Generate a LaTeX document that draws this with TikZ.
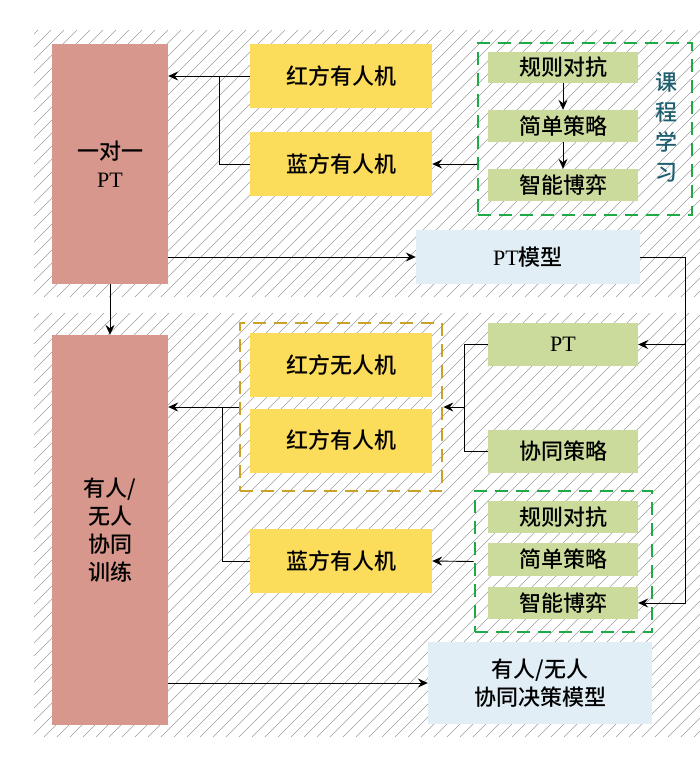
\documentclass[tikz,border=0pt]{standalone}
\usepackage{fontspec}
\setmainfont{Liberation Serif}
\newfontfamily\cjk{Noto Sans CJK SC}[UprightFont={* Medium}]
\usetikzlibrary{arrows.meta}

\definecolor{ptpink}{HTML}{D8978C}
\definecolor{uavyellow}{HTML}{FCDC5B}
\definecolor{stratgreen}{HTML}{CBDB9C}
\definecolor{modelblue}{HTML}{E1EEF6}
\definecolor{curgreen}{HTML}{1FAA48}
\definecolor{teamgold}{HTML}{C9A227}
\definecolor{curtext}{HTML}{1E5F70}

\begin{document}
\begin{tikzpicture}[x=1pt,y=-1pt,
    hatch/.style={black!38, line width=0.6pt},
    box/.style={inner sep=0pt, align=center, font=\cjk\fontsize{22}{28}\selectfont},
    ptbox/.style={box, fill=ptpink, minimum width=116},
    uav/.style={box, fill=uavyellow, minimum width=182, minimum height=64},
    strat/.style={box, fill=stratgreen, minimum width=150},
    model/.style={box, fill=modelblue, minimum width=224},
    curbox/.style={draw=curgreen, line width=2.8pt, dash pattern=on 13pt off 8pt},
    teambox/.style={draw=teamgold, line width=2.8pt, dash pattern=on 13pt off 8pt},
    arr/.style={-{Stealth[length=10pt,width=9pt,inset=3.5pt]}, line width=0.9pt},
    ln/.style={line width=0.9pt}]
    \useasboundingbox (0,0) rectangle (700,777);
    % hatched backgrounds
    \foreach \ya/\yb in {30/297,313/737}{
        \begin{scope}
            \clip (34,\ya) rectangle (700,\yb);
            \foreach \i in {-450,-437,...,700}
                \draw[hatch] (\i,\yb) -- ++(450,-450);
        \end{scope}
    }
    % upper part
    \node[ptbox, minimum height=240] (pt1) at (110,164) {一对一\\{\rmfamily PT}};
    \node[uav] (redA) at (341,76) {红方有人机};
    \node[uav] (blueA) at (341,164) {蓝方有人机};
    \node[curbox, minimum width=214, minimum height=172] (cur1) at (585,129) {};
    \node[strat, minimum height=31] (g1) at (563,67.5) {规则对抗};
    \node[strat, minimum height=32] (g2) at (563,126) {简单策略};
    \node[strat, minimum height=32] (g3) at (563,185) {智能博弈};
    \node[box, text=curtext, font=\cjk\fontsize{22}{30}\selectfont] (curlbl) at (666,127) {课\\程\\学\\习};
    \node[model, minimum height=54] (ptm) at (528,257) {{\rmfamily PT}模型};
    % lower part
    \node[ptbox, minimum height=390] (pt2) at (110,530) {有人/\\无人\\协同\\训练};
    \node[teambox, minimum width=202, minimum height=168] (team) at (341,407) {};
    \node[uav] (redU) at (341,365) {红方无人机};
    \node[uav] (redM) at (341,440.5) {红方有人机};
    \node[uav] (blueB) at (341,561) {蓝方有人机};
    \node[strat, minimum height=43] (ptB) at (563,344.5) {\rmfamily PT};
    \node[strat, minimum height=43] (coop) at (563,451.5) {协同策略};
    \node[curbox, minimum width=177, minimum height=141] (cur2) at (563.5,561.5) {};
    \node[strat, minimum height=32] (g4) at (563,517) {规则对抗};
    \node[strat, minimum height=33] (g5) at (563,559.5) {简单策略};
    \node[strat, minimum height=32] (g6) at (563,603) {智能博弈};
    \node[model, minimum height=82] (dm) at (540,683) {有人/无人\\协同决策模型};
    % connectors
    \draw[arr] (redA.west) -- (redA.west -| pt1.east);
    \draw[ln] (blueA.west) -- ++(-30,0) |- (redA.west);
    \draw[arr] (cur1.west |- blueA) -- (blueA.east);
    \draw[arr] (g1) -- (g2);
    \draw[arr] (g2) -- (g3);
    \draw[arr] (pt1.east |- ptm) -- (ptm.west);
    \draw[ln] (ptm.east) -- ++(45,0) coordinate (turn);
    \draw[arr] (turn) |- (ptB.east);
    \draw[arr] (turn) |- (g6.east);
    \draw[arr] (pt1) -- (pt2);
    \draw[ln] (ptB.west) -- ++(-23,0) coordinate (jt) |- (coop.west);
    \draw[arr] (jt |- team) -- (team.east);
    \draw[arr] (team.west) -- (team.west -| pt2.east);
    \draw[ln] (blueB.west) -- ++(-27,0) |- (team.west);
    \draw[arr] (cur2.west) -- (blueB.east);
    \draw[arr] (pt2.east |- dm) -- (dm.west);
\end{tikzpicture}
\end{document}
